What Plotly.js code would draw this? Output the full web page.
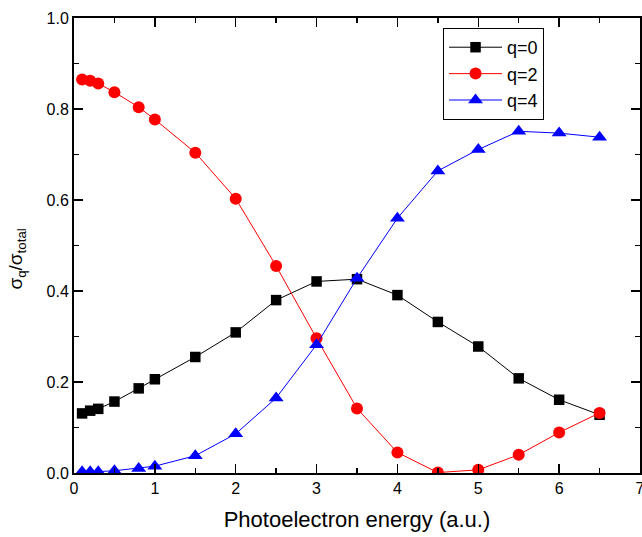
<!DOCTYPE html>
<html>
<head>
<meta charset="utf-8">
<script src="https://cdn.plot.ly/plotly-3.0.1.min.js"></script>
<style>html,body{margin:0;padding:0;background:#fff;}#chart{width:642px;height:537px;}</style>
</head>
<body>
<div id="chart"></div>
<script>
const energy = [0.1, 0.2, 0.3, 0.5, 0.8, 1, 1.5, 2, 2.5, 3, 3.5, 4, 4.5, 5, 5.5, 6, 6.5];
const q0 = [0.131, 0.137, 0.141, 0.157, 0.186, 0.206, 0.255, 0.309, 0.380, 0.421, 0.426, 0.391, 0.332, 0.278, 0.208, 0.161, 0.128];
const q2 = [0.865, 0.862, 0.856, 0.837, 0.804, 0.777, 0.704, 0.603, 0.455, 0.296, 0.142, 0.045, 0.001, 0.007, 0.040, 0.089, 0.132];
const q4 = [0.003, 0.003, 0.003, 0.005, 0.010, 0.015, 0.038, 0.086, 0.165, 0.282, 0.428, 0.560, 0.664, 0.711, 0.751, 0.747, 0.738];
const seriesNames = ['q=0', 'q=2', 'q=4'];
const xTicks = [0, 1, 2, 3, 4, 5, 6, 7];
const yTicks = [0, 0.2, 0.4, 0.6, 0.8, 1.0];

const FONT = 'Liberation Sans, Arial, sans-serif';

const traces = [
  {x: energy, y: q0, name: seriesNames[0], mode: 'lines+markers', line: {color: '#000000', width: 1}, marker: {symbol: 'square', size: 10.5, color: '#000000'}},
  {x: energy, y: q2, name: seriesNames[1], mode: 'lines+markers', line: {color: '#ff0000', width: 1}, marker: {symbol: 'circle', size: 12, color: '#ff0000'}},
  {x: energy, y: q4, name: seriesNames[2], mode: 'lines+markers', line: {color: '#0000ff', width: 1}, marker: {symbol: 'triangle-up', size: 13, color: '#0000ff'}}
];

const axisCommon = {
  showgrid: false, zeroline: false, showline: true, linecolor: '#000', linewidth: 2,
  mirror: 'allticks', ticks: 'inside', ticklen: 9, tickwidth: 1.5, tickcolor: '#000',
  tickfont: {family: FONT, size: 16, color: '#000'},
  ticklabeloverflow: 'allow',
  minor: {ticks: 'inside', ticklen: 5, tickwidth: 1.5, tickcolor: '#000'}
};

const layout = {
  width: 642, height: 537,
  margin: {l: 74, r: 2, t: 18, b: 64},
  paper_bgcolor: '#fff', plot_bgcolor: '#fff',
  font: {family: FONT, color: '#000'},
  showlegend: true,
  legend: {
    x: 0.652, y: 0.978, xanchor: 'left', yanchor: 'top',
    bordercolor: '#000', borderwidth: 1, bgcolor: '#fff',
    font: {family: FONT, size: 18, color: '#000'},
    tracegroupgap: 0, itemwidth: 53
  },
  xaxis: Object.assign({}, axisCommon, {
    range: [0, 7], tickvals: xTicks, ticktext: xTicks.map(String),
    minor: Object.assign({}, axisCommon.minor, {dtick: 0.5}),
    title: {text: 'Photoelectron energy (a.u.)', font: {family: FONT, size: 22, color: '#000'}, standoff: 15}
  }),
  yaxis: Object.assign({}, axisCommon, {
    range: [0, 1.0], tickvals: yTicks, ticktext: yTicks.map(v => v.toFixed(1)),
    minor: Object.assign({}, axisCommon.minor, {dtick: 0.1})
  }),
  annotations: [{
    text: 'σ<sub>q</sub>/σ<sub>total</sub>', textangle: -90,
    xref: 'paper', yref: 'paper', x: -0.1, y: 0.47, xanchor: 'center', yanchor: 'middle',
    showarrow: false, font: {family: FONT, size: 19, color: '#000'}
  }]
};

Plotly.newPlot('chart', traces, layout, {displayModeBar: false, staticPlot: true});
</script>
</body>
</html>
